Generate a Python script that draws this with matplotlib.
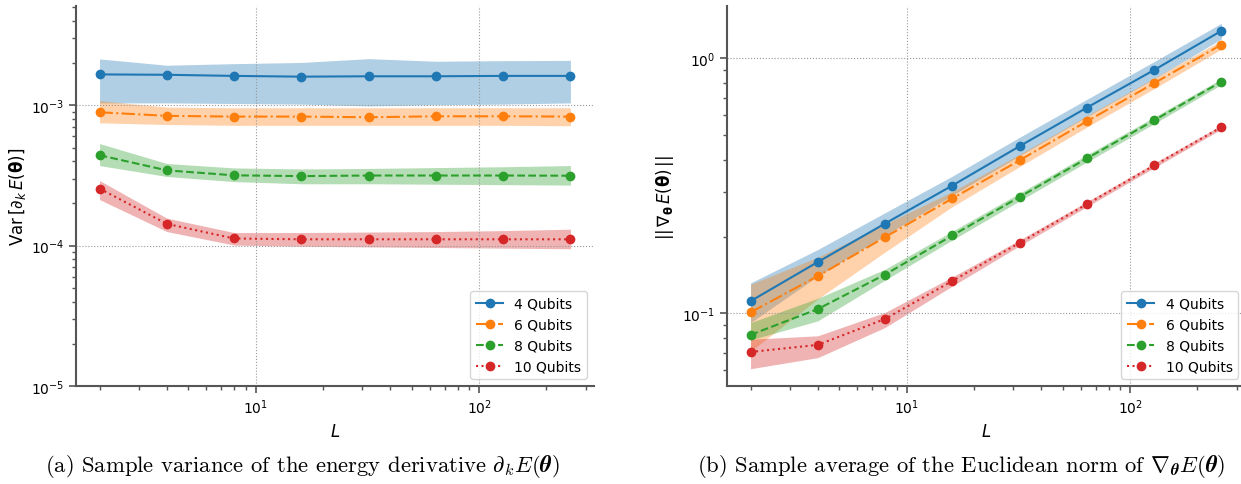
import matplotlib
matplotlib.use("Agg")
import matplotlib.pyplot as plt
import numpy as np

L = [2, 4, 8, 16, 32, 64, 128, 256]
labels = ["4 Qubits", "6 Qubits", "8 Qubits", "10 Qubits"]

# (a) sample variance of the derivative
var_4 = [1.66e-3, 1.65e-3, 1.62e-3, 1.60e-3, 1.61e-3, 1.61e-3, 1.62e-3, 1.62e-3]
var_4_hi = [2.14e-3, 1.93e-3, 1.98e-3, 2.02e-3, 2.15e-3, 2.06e-3, 2.08e-3, 2.09e-3]
var_4_lo = [1.04e-3, 1.04e-3, 1.03e-3, 1.02e-3, 0.99e-3, 1.01e-3, 1.02e-3, 1.04e-3]
var_6 = [8.92e-4, 8.41e-4, 8.31e-4, 8.31e-4, 8.22e-4, 8.35e-4, 8.35e-4, 8.31e-4]
var_6_hi = [1.08e-3, 9.7e-4, 9.6e-4, 9.6e-4, 9.6e-4, 9.6e-4, 9.6e-4, 9.6e-4]
var_6_lo = [7.5e-4, 7.3e-4, 7.2e-4, 7.2e-4, 7.2e-4, 7.2e-4, 7.2e-4, 7.15e-4]
var_8 = [4.41e-4, 3.44e-4, 3.17e-4, 3.13e-4, 3.16e-4, 3.16e-4, 3.16e-4, 3.15e-4]
var_8_hi = [5.34e-4, 3.85e-4, 3.58e-4, 3.52e-4, 3.55e-4, 3.60e-4, 3.65e-4, 3.72e-4]
var_8_lo = [3.72e-4, 3.11e-4, 2.86e-4, 2.76e-4, 2.76e-4, 2.74e-4, 2.72e-4, 2.70e-4]
var_10 = [2.55e-4, 1.43e-4, 1.125e-4, 1.11e-4, 1.11e-4, 1.11e-4, 1.11e-4, 1.11e-4]
var_10_hi = [2.91e-4, 1.57e-4, 1.24e-4, 1.24e-4, 1.25e-4, 1.26e-4, 1.28e-4, 1.31e-4]
var_10_lo = [2.13e-4, 1.26e-4, 1.01e-4, 0.99e-4, 0.98e-4, 0.97e-4, 0.96e-4, 0.95e-4]

# (b) sample average of gradient norm
nrm_4 = [0.1117, 0.159, 0.225, 0.317, 0.452, 0.640, 0.899, 1.28]
nrm_4_hi = [0.1316, 0.178, 0.248, 0.345, 0.49, 0.69, 0.97, 1.37]
nrm_4_lo = [0.092, 0.140, 0.202, 0.29, 0.415, 0.59, 0.83, 1.19]
nrm_6 = [0.101, 0.140, 0.199, 0.282, 0.398, 0.566, 0.798, 1.13]
nrm_6_hi = [0.13, 0.166, 0.224, 0.30, 0.42, 0.595, 0.835, 1.175]
nrm_6_lo = [0.071, 0.114, 0.174, 0.262, 0.376, 0.537, 0.76, 1.085]
nrm_8 = [0.0824, 0.104, 0.142, 0.202, 0.286, 0.405, 0.571, 0.809]
nrm_8_hi = [0.092, 0.1146, 0.149, 0.21, 0.296, 0.418, 0.588, 0.83]
nrm_8_lo = [0.0787, 0.0935, 0.135, 0.194, 0.276, 0.392, 0.554, 0.788]
nrm_10 = [0.0706, 0.0753, 0.0951, 0.134, 0.189, 0.268, 0.380, 0.537]
nrm_10_hi = [0.0792, 0.0817, 0.1009, 0.139, 0.194, 0.274, 0.388, 0.547]
nrm_10_lo = [0.0607, 0.0671, 0.0881, 0.128, 0.184, 0.262, 0.372, 0.527]

colors = ["#1f77b4", "#ff7f0e", "#2ca02c", "#d62728"]
styles = ["-", "-.", "--", ":"]

fig = plt.figure(figsize=(12.41, 4.85), dpi=100)
ax1 = fig.add_axes([76 / 1241, 98 / 485, 518 / 1241, 380 / 485])
ax2 = fig.add_axes([727 / 1241, 98 / 485, 518 / 1241, 380 / 485])

sets1 = [(var_4, var_4_lo, var_4_hi), (var_6, var_6_lo, var_6_hi),
         (var_8, var_8_lo, var_8_hi), (var_10, var_10_lo, var_10_hi)]
sets2 = [(nrm_4, nrm_4_lo, nrm_4_hi), (nrm_6, nrm_6_lo, nrm_6_hi),
         (nrm_8, nrm_8_lo, nrm_8_hi), (nrm_10, nrm_10_lo, nrm_10_hi)]

spine_c = "#555555"
for ax, sets in ((ax1, sets1), (ax2, sets2)):
    for (m, lo, hi), c, ls, lab in zip(sets, colors, styles, labels):
        ax.fill_between(L, lo, hi, color=c, alpha=0.35, linewidth=0)
        ax.plot(L, m, color=c, linestyle=ls, marker="o", markersize=6,
                linewidth=1.5, label=lab)
    ax.set_xscale("log")
    ax.set_yscale("log")
    ax.grid(True, which="major", linestyle=":", color="#999999", linewidth=0.8)
    for s in ("top", "right"):
        ax.spines[s].set_visible(False)
    for s in ("left", "bottom"):
        ax.spines[s].set_color(spine_c)
        ax.spines[s].set_linewidth(1.5)
    ax.tick_params(which="both", colors=spine_c, labelcolor="black", labelsize=10)
    ax.tick_params(which="major", length=5, width=1.2)
    ax.tick_params(which="minor", length=3, width=1.0)
    ax.set_xlabel(r"$L$", fontsize=12)
    ax.legend(loc="lower right", fontsize=10)

ax1.set_ylim(1e-5, 5.1e-3)
ax1.set_ylabel(r"Var$\,[\partial_k\,E(\mathbf{\theta})]$", fontsize=12, labelpad=2)
ax2.set_ylabel(r"$||\,\nabla_{\mathbf{\theta}}\,E(\mathbf{\theta})\,||$", fontsize=12)

cap_a = r"(a) Sample variance of the energy derivative $\partial_k E(\mathbfit{\theta})$"
cap_b = r"(b) Sample average of the Euclidean norm of $\nabla_{\mathbfit{\theta}} E(\mathbfit{\theta})$"
ta = fig.text(0.244, 0.038, cap_a, ha="center", va="center", fontsize=16.3,
              family="cmr10", math_fontfamily="cm")
tb = fig.text(0.774, 0.038, cap_b, ha="center", va="center", fontsize=16.3,
              family="cmr10", math_fontfamily="cm")

try:
    fig.savefig("out.png", dpi=100)
except Exception:
    ta.set_text(cap_a.replace(r"\mathbfit", r"\mathbf"))
    tb.set_text(cap_b.replace(r"\mathbfit", r"\mathbf"))
    fig.savefig("out.png", dpi=100)
